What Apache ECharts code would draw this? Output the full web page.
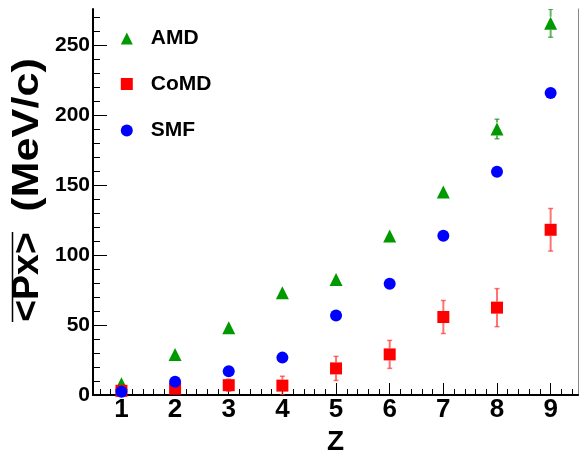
<!DOCTYPE html>
<html>
<head>
<meta charset="utf-8">
<script src="https://cdn.jsdelivr.net/npm/echarts@6/dist/echarts.min.js"></script>
<style>
  html, body { margin: 0; padding: 0; background: #fff; }
  #chart { width: 579px; height: 451px; }
</style>
</head>
<body>
<div id="chart"></div>
<script>
// Mean transverse momentum per fragment charge for three transport models
const zValues   = [1, 2, 3, 4, 5, 6, 7, 8, 9];
const amdPx     = [8, 29, 48, 73, 82.5, 113.5, 145, 190, 265.5];
const amdErr    = [2, 2, 2.5, 3, 3, 3.5, 4, 7, 10];
const comdPx    = [3, 4.5, 7, 6.7, 19, 29, 55.7, 62.4, 118];
const comdErr   = [2, 3, 4.3, 6.7, 8.6, 10, 11.8, 13.6, 15.2];
const smfPx     = [2.4, 9.5, 17, 26.7, 56.7, 79.5, 113.8, 159.5, 215.7];

const xMajorTicks = [1, 2, 3, 4, 5, 6, 7, 8, 9];
const yMajorTicks = [0, 50, 100, 150, 200, 250];
const xMinorTicks = [];
for (let v = 6; v <= 94; v += 2) xMinorTicks.push(v / 10);
const yMinorTicks = [];
for (let v = 10; v <= 270; v += 10) yMinorTicks.push(v);

const X_MIN = 0.47, X_MAX = 9.51;
const Y_MIN = 0, Y_MAX = 275.7;
const FONT = '"Liberation Sans", Arial, Helvetica, sans-serif';
const MARKER = 12;

const chart = echarts.init(document.getElementById('chart'), null, { renderer: 'canvas' });

function points(values) {
  return zValues.map((z, i) => [z, values[i]]);
}
function errPoints(values, errs) {
  return zValues.map((z, i) => [z, values[i], errs[i]]);
}

// Vertical error bar with short end caps; the part hidden behind the
// marker is left out, so short bars vanish entirely.
function errorBar(color, gap) {
  return function (params, api) {
    const x = api.value(0), y = api.value(1), e = api.value(2);
    const c = api.coord([x, y]);
    const hi = api.coord([x, y + e]);
    const lo = api.coord([x, y - e]);
    const cap = 2.5;
    const style = { stroke: color, lineWidth: 2 };
    const capStyle = { stroke: color, lineWidth: 1.5 };
    const children = [];
    if (c[1] - hi[1] > gap) {
      children.push(
        { type: 'line', shape: { x1: c[0], y1: c[1] - gap, x2: hi[0], y2: hi[1] }, style },
        { type: 'line', shape: { x1: hi[0] - cap, y1: hi[1], x2: hi[0] + cap, y2: hi[1] }, style: capStyle }
      );
    }
    if (lo[1] - c[1] > gap) {
      children.push(
        { type: 'line', shape: { x1: c[0], y1: c[1] + gap, x2: lo[0], y2: lo[1] }, style },
        { type: 'line', shape: { x1: lo[0] - cap, y1: lo[1], x2: lo[0] + cap, y2: lo[1] }, style: capStyle }
      );
    }
    return { type: 'group', children };
  };
}

function legendFor(name, top) {
  return {
    data: [name],
    orient: 'vertical',
    left: 120.8,
    top: top,
    padding: 0,
    itemWidth: 12,
    itemHeight: 12,
    selectedMode: false,
    textStyle: { fontFamily: FONT, fontSize: 21, fontWeight: 'bold', color: '#000', padding: [0, 0, 0, 13] }
  };
}

const hidden = { show: false };

const option = {
  animation: false,
  backgroundColor: '#fff',
  grid: { left: 93, right: 1, top: 9, bottom: 56, containLabel: false, outerBoundsMode: 'none' },
  legend: [legendFor('AMD', 28), legendFor('CoMD', 73.5), legendFor('SMF', 120)],
  xAxis: [
    {
      type: 'value', min: X_MIN, max: X_MAX, position: 'bottom',
      axisLine: { show: true, lineStyle: { color: '#000', width: 2 } },
      axisTick: { show: true, inside: true, length: 12, customValues: xMajorTicks, lineStyle: { color: '#000', width: 1 } },
      axisLabel: { customValues: xMajorTicks, margin: 2, fontFamily: FONT, fontSize: 26, fontWeight: 'bold', color: '#000' },
      splitLine: hidden,
      name: 'Z', nameLocation: 'middle', nameGap: 27,
      nameTextStyle: { fontFamily: FONT, fontSize: 28, fontWeight: 'bold', color: '#000' }
    },
    {
      type: 'value', min: X_MIN, max: X_MAX, position: 'bottom',
      axisLine: hidden,
      axisTick: { show: true, inside: true, length: 6, customValues: xMinorTicks, lineStyle: { color: '#000', width: 1 } },
      axisLabel: hidden, splitLine: hidden
    },
    {
      type: 'value', min: X_MIN, max: X_MAX, position: 'top',
      axisLine: { show: true, lineStyle: { color: '#000', width: 1.5 } },
      axisTick: hidden, axisLabel: hidden, splitLine: hidden
    }
  ],
  yAxis: [
    {
      type: 'value', min: Y_MIN, max: Y_MAX, position: 'left',
      axisLine: { show: true, lineStyle: { color: '#000', width: 2 } },
      axisTick: { show: true, inside: true, length: 14, customValues: yMajorTicks, lineStyle: { color: '#000', width: 1 } },
      axisLabel: { customValues: yMajorTicks, margin: 3, fontFamily: FONT, fontSize: 21, fontWeight: 'bold', color: '#000' },
      splitLine: hidden
    },
    {
      type: 'value', min: Y_MIN, max: Y_MAX, position: 'left',
      axisLine: hidden,
      axisTick: { show: true, inside: true, length: 7, customValues: yMinorTicks, lineStyle: { color: '#000', width: 1 } },
      axisLabel: hidden, splitLine: hidden
    },
    {
      type: 'value', min: Y_MIN, max: Y_MAX, position: 'right',
      axisLine: { show: true, lineStyle: { color: '#888', width: 1 } },
      axisTick: hidden, axisLabel: hidden, splitLine: hidden
    }
  ],
  graphic: [
    {
      // y-axis title, quantity part (with overline below)
      type: 'text', x: 28.5, y: 277, rotation: Math.PI / 2, scaleX: 1.04,
      style: {
        text: '<Px>',
        font: 'bold 36px ' + FONT,
        fill: '#000', align: 'center', verticalAlign: 'middle'
      }
    },
    {
      // y-axis title, unit part
      type: 'text', x: 28.5, y: 135, rotation: Math.PI / 2, scaleX: 1.2,
      style: {
        text: '(MeV/c)',
        font: 'bold 36px ' + FONT,
        fill: '#000', align: 'center', verticalAlign: 'middle'
      }
    },
    {
      type: 'line', shape: { x1: 12.5, y1: 232, x2: 12.5, y2: 322 },
      style: { stroke: '#000', lineWidth: 1.5 }
    }
  ],
  series: [
    {
      name: 'AMD errors', type: 'custom', clip: true, z: 1,
      renderItem: errorBar('rgba(0,130,0,0.6)', 6.5),
      encode: { x: 0, y: 1 },
      data: errPoints(amdPx, amdErr)
    },
    {
      name: 'CoMD errors', type: 'custom', clip: true, z: 1,
      renderItem: errorBar('rgba(255,40,40,0.65)', 6),
      encode: { x: 0, y: 1 },
      data: errPoints(comdPx, comdErr)
    },
    {
      name: 'AMD', type: 'scatter', symbol: 'triangle', symbolSize: 13, z: 3,
      itemStyle: { color: '#009900', opacity: 1 },
      data: points(amdPx)
    },
    {
      name: 'CoMD', type: 'scatter', symbol: 'rect', symbolSize: MARKER, z: 4,
      itemStyle: { color: '#ff0000', opacity: 1 },
      data: points(comdPx)
    },
    {
      name: 'SMF', type: 'scatter', symbol: 'circle', symbolSize: MARKER, z: 5,
      itemStyle: { color: '#0000ff', opacity: 1 },
      data: points(smfPx)
    }
  ]
};

chart.setOption(option);
</script>
</body>
</html>
